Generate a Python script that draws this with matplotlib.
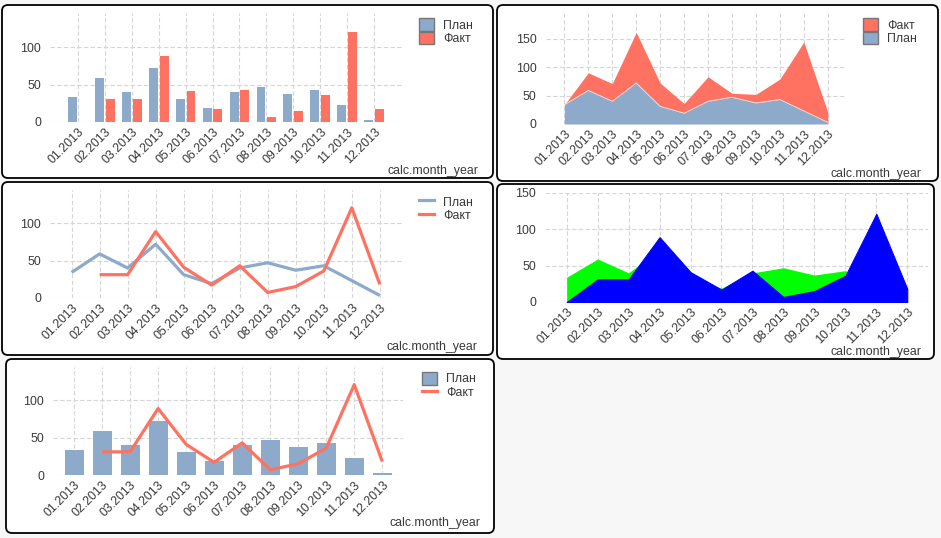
import numpy as np
import matplotlib
matplotlib.use('Agg')
import matplotlib.pyplot as plt
from matplotlib.patches import FancyBboxPatch, Patch
from matplotlib.lines import Line2D
from matplotlib.transforms import ScaledTranslation

plt.rcParams['font.family'] = ['Liberation Sans', 'DejaVu Sans']

# data
months = ['01.2013', '02.2013', '03.2013', '04.2013', '05.2013', '06.2013',
          '07.2013', '08.2013', '09.2013', '10.2013', '11.2013', '12.2013']
plan = [34, 59, 40, 72, 31, 19, 40, 47, 37, 43, 23, 3]
fact = [np.nan, 31, 31, 89, 41, 17, 43, 7, 15, 36, 121, 18]
yticks_a = [0, 50, 100]
yticks_b = [0, 50, 100, 150]
lbl_plan = 'План'
lbl_fact = 'Факт'
xtitle = 'calc.month_year'

W, H = 941, 538
C_PLAN = '#8DAACB'
C_FACT = '#FF7262'
C_TXT = '#3a3a3a'
C_GRID = '#d6d6d6'
FS = 8.9

fig = plt.figure(figsize=(W / 100, H / 100), dpi=100, facecolor='#f7f7f7')
x = np.arange(len(months))
plan_a = np.array(plan, dtype=float)
fact_a = np.array(fact, dtype=float)
shift = ScaledTranslation(7 / 100, -1 / 100, fig.dpi_scale_trans)


def panel(x0, y0, x1, y1):
    p = FancyBboxPatch((x0 / 100, (H - y1) / 100), (x1 - x0) / 100, (y1 - y0) / 100,
                       boxstyle='round,pad=0,rounding_size=0.06',
                       transform=fig.dpi_scale_trans, facecolor='white',
                       edgecolor='black', linewidth=1.3, zorder=0)
    fig.add_artist(p)


def make_axes(left, top, right, bottom, xlim, ylim, yticks):
    ax = fig.add_axes([left / W, 1 - bottom / H, (right - left) / W, (bottom - top) / H])
    ax.set_facecolor('none')
    ax.set_xlim(*xlim)
    ax.set_ylim(*ylim)
    ax.set_xticks(x)
    ax.set_xticklabels(months, rotation=45, ha='right', va='top',
                       rotation_mode='anchor', color=C_TXT, fontsize=FS)
    for t in ax.get_xticklabels():
        t.set_transform(t.get_transform() + shift)
    ax.set_yticks(yticks)
    ax.set_yticklabels([str(v) for v in yticks], color=C_TXT, fontsize=FS)
    ax.tick_params(length=0, pad=6.5)
    ax.tick_params(axis='x', pad=3)
    for s in ax.spines.values():
        s.set_visible(False)
    ax.grid(True, color=C_GRID, linestyle=(0, (4, 2)), linewidth=0.8)
    ax.set_axisbelow(True)
    return ax


def xlabel(xr, yc):
    fig.text(xr / W, 1 - yc / H, xtitle, ha='right', va='center', color=C_TXT, fontsize=FS)


def legend(ax, handles, labels, xl, yt):
    ax.legend(handles, labels, loc='upper left', bbox_to_anchor=(xl / W, 1 - yt / H),
              bbox_transform=fig.transFigure, frameon=False, borderpad=0,
              borderaxespad=0, handlelength=1.22, handleheight=1.22,
              handletextpad=0.75, labelspacing=0, fontsize=FS, labelcolor=C_TXT)


# panel 1: grouped bars
panel(2, 5, 493, 178)
ax1 = make_axes(50, 13, 402, 122, (-1.04, 12.04), (0, 146), yticks_a)
ax1.bar(x - 0.2, plan_a, width=0.33, color=C_PLAN, zorder=2)
ax1.bar(x + 0.2, fact_a, width=0.33, color=C_FACT, zorder=2)
legend(ax1, [Patch(facecolor=C_PLAN, edgecolor='#777777', linewidth=1),
             Patch(facecolor=C_FACT, edgecolor='#777777', linewidth=1)],
       [lbl_plan, lbl_fact], 419, 18)
xlabel(478, 171)

# panel 2: stacked area
panel(497, 5, 938, 181)
ax2 = make_axes(545.7, 13, 845.7, 124, (-0.78, 11.75), (0, 195), yticks_b)
fact0 = np.nan_to_num(fact_a)
ax2.fill_between(x, 0, plan_a, color=C_PLAN, linewidth=0, zorder=2)
ax2.fill_between(x, plan_a, plan_a + fact0, color=C_FACT, linewidth=0, zorder=2)
ax2.plot(x, plan_a, color='#e8e8e8', linewidth=0.6, zorder=3)
legend(ax2, [Patch(facecolor=C_FACT, edgecolor='#777777', linewidth=1),
             Patch(facecolor=C_PLAN, edgecolor='#777777', linewidth=1)],
       [lbl_fact, lbl_plan], 863, 18)
xlabel(921.7, 174)

# panel 3: lines
panel(2, 182, 493, 355)
ax3 = make_axes(50, 190, 401.7, 297.7, (-0.77, 11.78), (0, 145), yticks_a)
ax3.plot(x, plan_a, color=C_PLAN, linewidth=2.3, zorder=2, solid_capstyle='butt')
ax3.plot(x, fact_a, color=C_FACT, linewidth=2.3, zorder=3, solid_capstyle='butt')
legend(ax3, [Line2D([], [], color=C_PLAN, linewidth=2.3),
             Line2D([], [], color=C_FACT, linewidth=2.3)],
       [lbl_plan, lbl_fact], 419, 195)
xlabel(477.7, 346.7)

# panel 4: overlapping areas
panel(497, 184, 934, 359)
ax4 = make_axes(545, 192.7, 927.7, 302, (-0.7, 11.66), (0, 150), yticks_b)
ax4.fill_between(x, 0, plan_a, color='#00ff00', linewidth=0, zorder=2)
ax4.fill_between(x, 0, fact0, facecolor='#0000ff', edgecolor='#0000ff',
                 linewidth=0.8, zorder=3)
xlabel(921.7, 351.7)

# panel 5: bars + line
panel(6, 359, 494, 533)
ax5 = make_axes(53.3, 366.7, 403.3, 475, (-0.74, 11.75), (0, 145), yticks_a)
ax5.bar(x, plan_a, width=0.68, color=C_PLAN, zorder=2)
ax5.plot(x, fact_a, color=C_FACT, linewidth=2.3, zorder=3, solid_capstyle='butt')
legend(ax5, [Patch(facecolor=C_PLAN, edgecolor='#777777', linewidth=1),
             Line2D([], [], color=C_FACT, linewidth=2.3)],
       [lbl_plan, lbl_fact], 421.7, 371.7)
xlabel(480, 523)

fig.savefig('out.png', dpi=100, facecolor=fig.get_facecolor())
